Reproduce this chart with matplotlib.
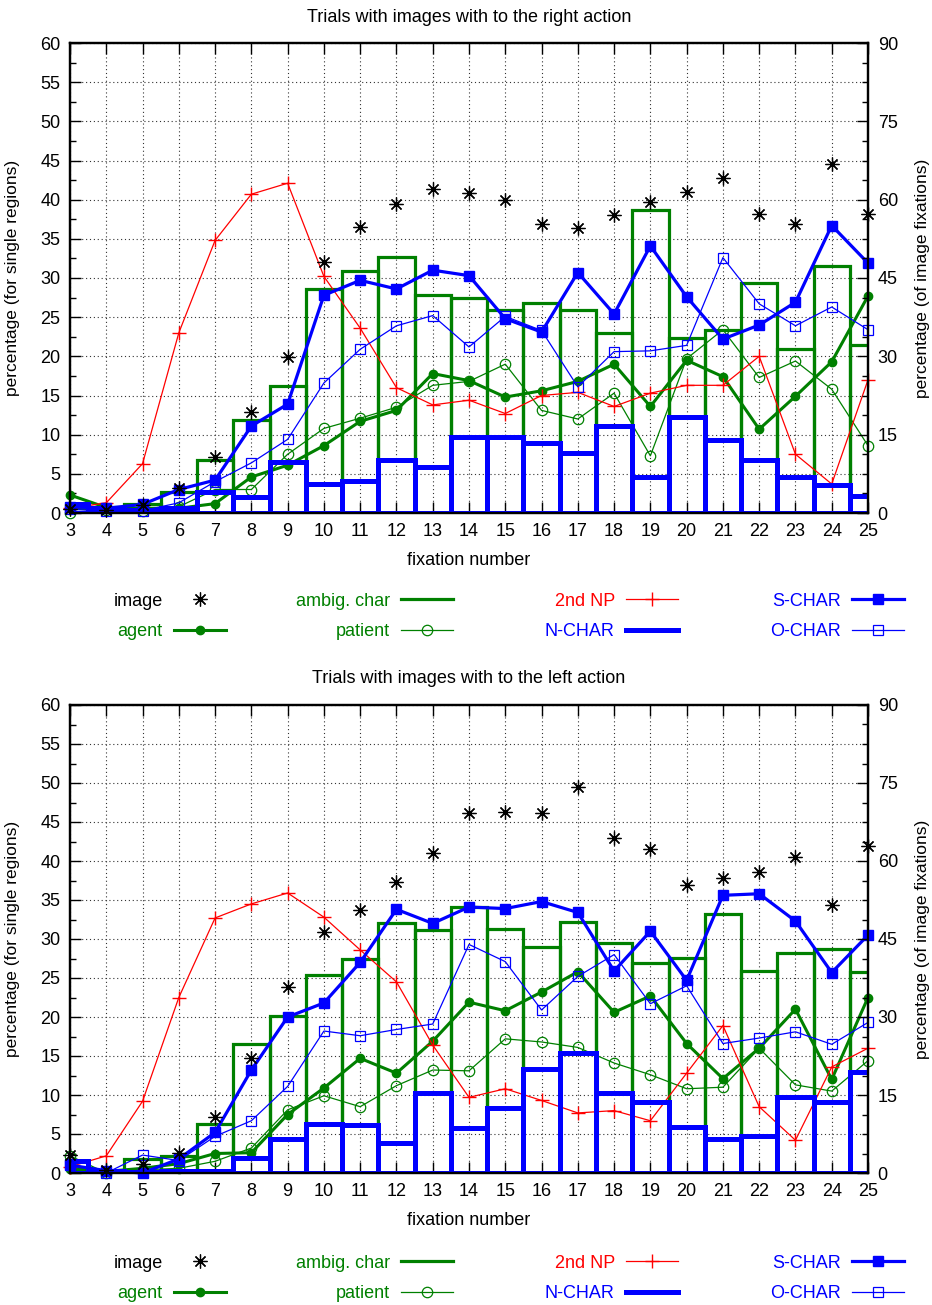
import numpy as np
import matplotlib.pyplot as plt
from matplotlib.lines import Line2D
from matplotlib.ticker import MultipleLocator

plt.rcParams['font.family'] = ['Liberation Sans', 'DejaVu Sans']
plt.rcParams['font.size'] = 13

fix = list(range(3, 26))

# --- trials with images with to the right action ---
image_r = [0.8, 0.5, 1.5, 4.8, 10.8, 19.4, 29.9, 48.0, 54.8, 59.1, 62.0, 61.2, 59.9, 55.4, 54.6, 57.0,
           59.6, 61.4, 64.1, 57.3, 55.4, 66.8, 57.3]
agent_r = [2.3, 0.7, 0.6, 0.6, 1.2, 4.6, 6.1, 8.6, 11.7, 13.1, 17.8, 16.9, 14.8, 15.6, 16.8, 19.0,
           13.6, 19.5, 17.4, 10.7, 14.9, 19.3, 27.7]
ambig_r = [0.6, 0.8, 1.2, 2.7, 6.8, 11.9, 16.2, 28.6, 30.9, 32.7, 27.8, 27.4, 25.9, 26.8, 25.9, 23.0,
           38.7, 22.4, 23.3, 29.3, 20.9, 31.5, 21.4]
patient_r = [0.0, 0.4, 0.2, 0.8, 3.0, 3.0, 7.5, 10.8, 12.1, 13.5, 16.3, 16.8, 19.0, 13.1, 12.0, 15.3,
             7.3, 19.7, 23.4, 17.3, 19.4, 15.8, 8.6]
np2_r = [0.6, 1.3, 6.3, 23.0, 34.8, 40.7, 42.1, 30.2, 23.6, 16.0, 13.8, 14.4, 12.7, 15.0, 15.4, 13.6,
         15.3, 16.3, 16.3, 20.0, 7.5, 3.7, 17.0]
nchar_r = [1.2, 0.6, 0.4, 0.6, 2.7, 2.0, 6.5, 3.7, 4.1, 6.8, 5.9, 9.7, 9.7, 9.0, 7.7, 11.1,
           4.6, 12.2, 9.3, 6.8, 4.6, 3.6, 2.2]
schar_r = [0.8, 0.6, 1.1, 3.0, 4.2, 11.1, 13.9, 27.8, 29.7, 28.6, 31.0, 30.3, 24.8, 23.1, 30.7, 25.4,
           34.1, 27.6, 22.2, 24.0, 26.9, 36.7, 31.9]
ochar_r = [0.5, 0.2, 0.3, 1.3, 4.0, 6.4, 9.4, 16.6, 20.9, 23.9, 25.2, 21.2, 25.1, 23.3, 16.1, 20.6,
           20.7, 21.4, 32.6, 26.7, 23.9, 26.3, 23.4]

# --- trials with images with to the left action ---
image_l = [3.5, 0.5, 1.8, 3.9, 10.7, 22.1, 35.7, 46.4, 50.6, 56.0, 61.5, 69.3, 69.5, 69.3, 74.3, 64.4,
           62.3, 55.4, 56.7, 57.8, 60.8, 51.6, 62.9]
agent_l = [0.5, 0.2, 0.6, 1.2, 2.5, 2.6, 7.5, 10.9, 14.7, 12.8, 16.9, 21.9, 20.8, 23.2, 25.8, 20.6,
           22.7, 16.6, 12.1, 16.0, 21.0, 12.0, 22.5]
ambig_l = [0.5, 0.3, 1.8, 2.2, 6.3, 16.6, 20.1, 25.4, 27.4, 32.1, 31.2, 34.1, 31.3, 29.0, 32.2, 29.5,
           26.9, 27.6, 33.2, 25.9, 28.2, 28.7, 25.8]
patient_l = [2.2, 0.0, 0.4, 0.6, 1.5, 3.2, 8.1, 9.9, 8.5, 11.2, 13.2, 13.1, 17.2, 16.8, 16.1, 14.1,
             12.6, 10.8, 11.0, 16.0, 11.3, 10.5, 14.4]
np2_l = [0.8, 2.2, 9.2, 22.5, 32.7, 34.5, 35.9, 32.8, 28.6, 24.5, 16.4, 9.7, 10.8, 9.3, 7.7, 8.0,
         6.7, 12.8, 18.9, 8.5, 4.2, 13.6, 16.0]
nchar_l = [1.5, 0.2, 0.1, 0.2, 0.3, 1.9, 4.4, 6.3, 6.1, 3.8, 10.3, 5.8, 8.3, 13.3, 15.4, 10.3,
           9.1, 5.9, 4.3, 4.8, 9.8, 9.1, 12.9]
schar_l = [1.0, 0.3, 0.0, 1.8, 5.2, 13.2, 20.0, 21.8, 27.0, 33.8, 32.0, 34.1, 33.9, 34.8, 33.4, 25.9,
           31.0, 24.7, 35.6, 35.8, 32.3, 25.7, 30.5]
ochar_l = [1.2, 0.0, 2.3, 1.6, 4.7, 6.7, 11.1, 18.2, 17.6, 18.4, 19.1, 29.3, 27.1, 20.9, 25.2, 28.0,
           21.7, 24.0, 16.6, 17.3, 18.1, 16.5, 19.3]

GREEN = '#008000'
RED = '#ff0000'
BLUE = '#0000ff'

W, H = 932, 1305
fig = plt.figure(figsize=(W / 100, H / 100), dpi=100)


def panel(ytop, ybot, title, image, agent, ambig, patient, np2, nchar, schar, ochar, leg_y):
    hpx = ybot - ytop
    ax = fig.add_axes([70 / W, 1 - ybot / H, 798 / W, hpx / H])
    ax.set_xlim(3, 25)
    ax.set_ylim(0, 60)
    ax.set_xticks(fix)
    ax.yaxis.set_major_locator(MultipleLocator(5))
    ax.yaxis.set_minor_locator(MultipleLocator(2.5))
    ax.grid(True, which='major', linestyle=(0, (1, 2.5)), color='#333333', lw=0.8)
    ax.set_axisbelow(True)
    ax.tick_params(which='both', direction='in', top=True, right=False, width=1)
    ax.tick_params(which='major', length=8, pad=7)
    ax.tick_params(which='minor', length=4)
    for s in ax.spines.values():
        s.set_linewidth(1.6)

    ax.bar(fix, ambig, width=1, fill=False, edgecolor=GREEN, lw=2.3, zorder=3)
    ax.plot(fix, agent, color=GREEN, lw=2.2, marker='o', ms=6, zorder=2, clip_on=False)
    ax.plot(fix, patient, color=GREEN, lw=0.9, marker='o', ms=7.5, mfc='none', mew=0.9, zorder=4,
            clip_on=False)
    ax.plot(fix, np2, color=RED, lw=0.9, marker='+', ms=10, mew=1, zorder=5, clip_on=False)
    ax.bar(fix, nchar, width=1, fill=False, edgecolor=BLUE, lw=3.6, zorder=6)
    ax.plot(fix, schar, color=BLUE, lw=2.3, marker='s', ms=6.5, zorder=7, clip_on=False)
    ax.plot(fix, ochar, color=BLUE, lw=0.9, marker='s', ms=7, mfc='none', mew=0.9, zorder=8,
            clip_on=False)

    ax.set_xlabel('fixation number')
    ax.xaxis.set_label_coords(0.5, -39 / hpx)
    ax.set_ylabel('percentage (for single regions)', fontsize=12.5)
    ax.yaxis.set_label_coords(-50 / 798, 0.5)
    ax.text(0.5, 1 + 26 / hpx, title, transform=ax.transAxes, ha='center', va='center')

    ax2 = ax.twinx()
    ax2.set_ylim(0, 90)
    ax2.yaxis.set_major_locator(MultipleLocator(15))
    ax2.yaxis.set_minor_locator(MultipleLocator(3.75))
    ax2.tick_params(which='both', direction='in', width=1)
    ax2.tick_params(which='major', length=8, pad=7)
    ax2.tick_params(which='minor', length=4)
    ax2.plot(fix, image, ls='none', marker=(8, 2, 0), ms=10, mew=0.9, color='black', clip_on=False)
    ax2.set_ylabel('percentage (of image fixations)', fontsize=12.5)
    ax2.yaxis.set_label_coords(1 + 47 / 798, 0.5)
    for s in ax2.spines.values():
        s.set_linewidth(1.6)

    handles = [
        Line2D([], [], ls='none', marker=(8, 2, 0), ms=10, mew=0.9, color='black'),
        Line2D([], [], color=GREEN, lw=2.2, marker='o', ms=6),
        Line2D([], [], color=GREEN, lw=2.3),
        Line2D([], [], color=GREEN, lw=0.9, marker='o', ms=7.5, mfc='none', mew=0.9),
        Line2D([], [], color=RED, lw=0.9, marker='+', ms=10, mew=1),
        Line2D([], [], color=BLUE, lw=3.6),
        Line2D([], [], color=BLUE, lw=2.3, marker='s', ms=6.5),
        Line2D([], [], color=BLUE, lw=0.9, marker='s', ms=7, mfc='none', mew=0.9),
    ]
    labels = ['image', 'agent', 'ambig. char', 'patient', '2nd NP', 'N-CHAR', 'S-CHAR', 'O-CHAR']
    colors = ['black', GREEN, GREEN, GREEN, RED, BLUE, BLUE, BLUE]
    col_right = [226, 453, 678, 904]
    for c in range(4):
        i = 2 * c
        fig.legend(handles[i:i + 2], labels[i:i + 2], labelcolor=colors[i:i + 2],
                   loc='center right', bbox_to_anchor=(col_right[c] / W, 1 - leg_y / H),
                   markerfirst=False, frameon=False, borderpad=0, borderaxespad=0,
                   handlelength=2.9, handletextpad=0.6, labelspacing=0.75, numpoints=1)


panel(43, 513, 'Trials with images with to the right action',
      image_r, agent_r, ambig_r, patient_r, np2_r, nchar_r, schar_r, ochar_r, 616.5)
panel(705, 1173, 'Trials with images with to the left action',
      image_l, agent_l, ambig_l, patient_l, np2_l, nchar_l, schar_l, ochar_l, 1278.5)

fig.savefig('out.png', dpi=100)
